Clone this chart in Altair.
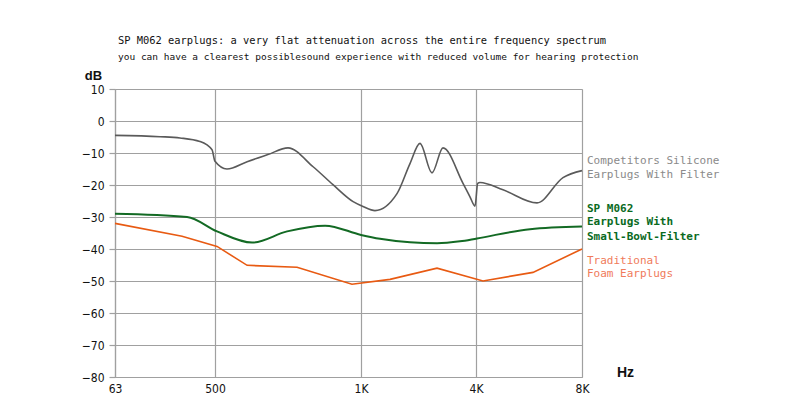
import altair as alt
import pandas as pd

# ---- data ----
comp_hz = [63, 260, 347, 434, 487, 500, 541, 610, 681, 750, 836, 904, 973, 1052, 1365, 1939, 2278, 2539, 2852, 3139, 3661, 3843, 3974, 4064, 4150, 5019, 6302, 7283, 8000]
comp_db = [-4.5, -4.9, -5.3, -6.4, -9.0, -12.6, -15.0, -12.7, -10.5, -8.4, -14.3, -19.9, -25.2, -26.7, -28.0, -22.7, -13.3, -7.0, -16.2, -8.4, -19.5, -23.7, -26.6, -19.5, -19.2, -21.5, -25.6, -17.7, -15.5]

sp_hz = [63, 378, 507, 627, 747, 877, 1000, 1496, 2278, 2983, 3583, 4038, 6038, 8000]
sp_db = [-29.0, -30.0, -34.5, -38.0, -34.5, -32.7, -35.6, -36.8, -37.9, -38.2, -37.6, -36.7, -33.8, -33.0]

foam_hz = [63, 356, 507, 610, 781, 969, 1757, 2983, 4264, 6151, 8000]
foam_db = [-32.0, -36.0, -39.2, -45.1, -45.7, -51.0, -49.5, -46.0, -50.0, -47.3, -40.0]

x_ticks = [63, 500, 1000, 4000, 8000]
y_ticks = [-80, -70, -60, -50, -40, -30, -20, -10, 0, 10]

comp_label = ["Competitors Silicone", "Earplugs With Filter"]
comp_label_db = [-12.6, -17.0]
sp_label = ["SP M062", "Earplugs With", "Small-Bowl-Filter"]
sp_label_db = [-27.6, -31.7, -36.1]
foam_label = ["Traditional", "Foam Earplugs"]
foam_label_db = [-43.6, -47.7]

title_text = "SP M062 earplugs: a very flat attenuation across the entire frequency spectrum"
subtitle_text = "you can have a clearest possiblesound experience with reduced volume for hearing protection"

# ---- tables ----
comp = pd.DataFrame({"hz": comp_hz, "db": comp_db})
sp = pd.DataFrame({"hz": sp_hz, "db": sp_db})
foam = pd.DataFrame({"hz": foam_hz, "db": foam_db})
comp_l = pd.DataFrame({"label": comp_label, "db": comp_label_db, "hz": 8000})
sp_l = pd.DataFrame({"label": sp_label, "db": sp_label_db, "hz": 8000})
foam_l = pd.DataFrame({"label": foam_label, "db": foam_label_db, "hz": 8000})

W, H = 467, 288
AXIS_FONT = "Liberation Sans Narrow, DejaVu Sans Condensed, sans-serif"
MONO = "DejaVu Sans Mono"
GRID = "#a0a0a0"

xscale = alt.Scale(domain=x_ticks, range=[0, 100, 246, 361, W], nice=False, zero=False)
yscale = alt.Scale(domain=[-80, 10], nice=False, zero=False)

xenc = alt.X(
    "hz:Q", scale=xscale,
    axis=alt.Axis(
        values=x_ticks,
        labelExpr="datum.value >= 1000 ? (datum.value / 1000) + 'K' : datum.value",
        grid=True, gridColor=GRID, gridWidth=1.2,
        domain=True, domainColor=GRID, domainWidth=1.2,
        ticks=False, labelPadding=6, labelFlush=False, labelOverlap=False,
        labelFont=AXIS_FONT, labelFontSize=12, labelColor="#111",
        title="Hz", titleX=510, titleY=-5, titleAlign="center", titleBaseline="middle",
        titleFont="Liberation Sans, sans-serif", titleFontSize=14, titleFontWeight="bold", titleColor="#111",
    ),
)
yenc = alt.Y(
    "db:Q", scale=yscale,
    axis=alt.Axis(
        values=y_ticks, tickCount=10, labelOverlap=False, labelFlush=False,
        grid=True, gridColor=GRID, gridWidth=1.2,
        domain=True, domainColor=GRID, domainWidth=1.2,
        ticks=True, tickColor=GRID, tickSize=6, tickWidth=1.2, labelPadding=5,
        labelFont=AXIS_FONT, labelFontSize=12, labelColor="#111",
        title="dB", titleAngle=0, titleX=-22, titleY=-14, titleAlign="center", titleBaseline="middle",
        titleFont="Liberation Sans, sans-serif", titleFontSize=13, titleFontWeight="bold", titleColor="#111",
    ),
)

comp_line = alt.Chart(comp).mark_line(color="#5a5a5a", strokeWidth=1.6, interpolate="monotone").encode(x=xenc, y=yenc)
sp_line = alt.Chart(sp).mark_line(color="#136a24", strokeWidth=2, interpolate="monotone").encode(x="hz:Q", y="db:Q")
foam_line = alt.Chart(foam).mark_line(color="#e85a12", strokeWidth=1.6).encode(x="hz:Q", y="db:Q")

def labels(df, color, weight):
    return alt.Chart(df).mark_text(
        align="left", baseline="middle", dx=5, font=MONO, fontSize=11,
        color=color, fontWeight=weight,
    ).encode(x="hz:Q", y="db:Q", text="label:N")

chart = alt.layer(
    comp_line, sp_line, foam_line,
    labels(comp_l, "#8a8a8a", "normal"),
    labels(sp_l, "#0a6a1e", "bold"),
    labels(foam_l, "#f07a5a", "normal"),
).properties(
    width=W, height=H,
    title=alt.TitleParams(
        text=title_text, subtitle=subtitle_text, anchor="start", frame="group", dx=3, offset=8,
        font=MONO, fontSize=10.4, fontWeight="normal", color="#111",
        subtitleFont=MONO, subtitleFontSize=9.5, subtitleColor="#111", subtitlePadding=5,
    ),
    autosize=alt.AutoSizeParams(type="none"),
    padding={"left": 115, "top": 89, "right": 218, "bottom": 38},
).configure_view(stroke=None).configure(background="white")

chart.save("out.html", embed_options={"renderer": "svg", "actions": False})
